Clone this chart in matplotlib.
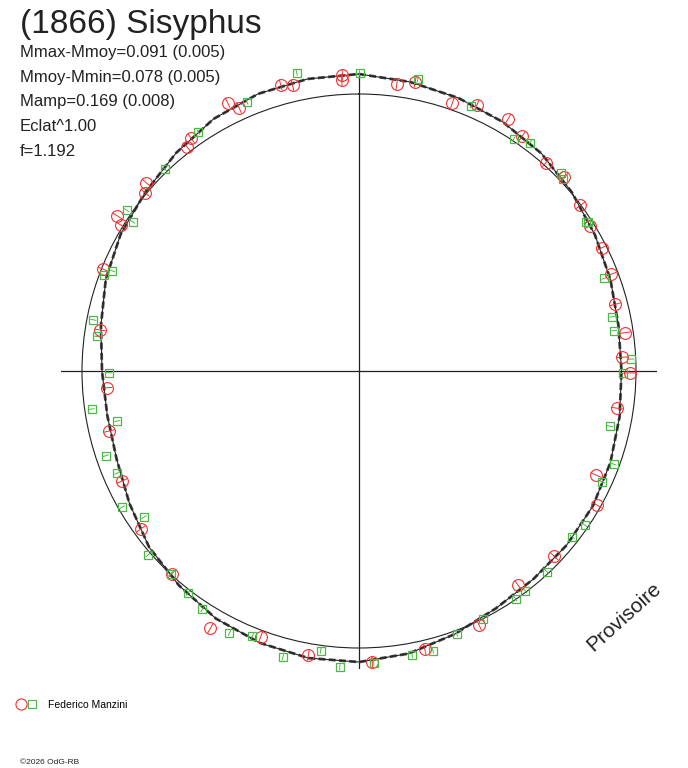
import numpy as np
import matplotlib
matplotlib.use('Agg')
import matplotlib.pyplot as plt
from matplotlib.legend_handler import HandlerTuple
from matplotlib.lines import Line2D

plt.rcParams['font.family'] = ['Liberation Sans', 'DejaVu Sans']

# fitted light curve, rotation phase in degrees (clockwise from top), dmag relative to mean
curve_phase = np.arange(0, 360, 10)
curve_dmag = [0.087, 0.072, 0.059, 0.046, 0.030, 0.004, -0.020, -0.041, -0.059,
              -0.063, -0.054, -0.041, -0.030, -0.026, -0.024, -0.013, 0.013, 0.043,
              0.061, 0.063, 0.054, 0.039, 0.013, -0.013, -0.052, -0.083, -0.093,
              -0.087, -0.065, -0.033, -0.009, 0.007, 0.033, 0.061, 0.078, 0.085]

# observer 1 (red circles)
red_phase = [356.8, 356.6, 344.7, 346.9, 333.9, 335.5, 324.2, 322.5, 311.5, 309.8,
             302.7, 301.5, 291.7, 279.0, 7.5, 11.0, 19.2, 23.9, 30.6, 34.8,
             41.9, 46.6, 53.2, 57.8, 63.1, 69.0, 75.4, 81.8, 87.0, 90.4,
             98.2, 113.7, 119.4, 133.5, 143.4, 154.7, 166.7, 177.4, 190.1, 200.3,
             210.0, 222.7, 234.1, 245.1, 256.5, 266.2]
red_dmag = [0.084, 0.063, 0.085, 0.071, 0.095, 0.054, 0.043, 0.022, 0.031, 0.006,
            0.044, 0.009, -0.007, -0.064, 0.054, 0.076, 0.028, 0.060, 0.067, 0.040,
            0.013, 0.025, -0.003, -0.018, -0.020, -0.031, -0.054, -0.036, -0.058, -0.026,
            -0.070, -0.080, -0.018, -0.034, -0.043, 0.017, 0.039, 0.061, 0.050, 0.027,
            0.087, -0.005, -0.034, -0.067, -0.088, -0.105]
red_err = 0.025

# observer 2 (green squares)
green_phase = [348.2, 0.1, 337.4, 326.1, 316.1, 304.7, 303.4, 292.1, 290.6, 280.9,
               277.5, 269.6, 11.4, 22.9, 33.7, 36.8, 45.6, 46.8, 56.8, 56.9,
               69.3, 77.9, 81.0, 87.5, 90.5, 261.9, 258.3, 251.5, 247.1, 240.1,
               235.8, 228.9, 222.9, 217.6, 213.3, 206.3, 201.9, 194.9, 187.8, 183.7,
               102.4, 110.1, 114.5, 124.3, 127.9, 136.9, 142.9, 145.5, 153.4, 159.6,
               165.2, 169.4, 177.1]
green_dmag = [0.120, 0.090, 0.064, 0.047, 0.013, 0.024, -0.026, -0.047, -0.020, -0.028,
              -0.054, -0.117, 0.089, 0.048, 0.008, 0.036, 0.024, 0.014, -0.024, -0.015,
              -0.064, -0.078, -0.080, -0.020, -0.058, -0.030, -0.131, -0.044, -0.063, -0.017,
              -0.074, 0.014, -0.001, 0.016, 0.036, 0.067, 0.038, 0.084, 0.023, 0.087,
              -0.087, -0.025, -0.042, -0.015, -0.030, -0.009, -0.007, -0.003, 0.001, 0.014,
              0.053, 0.052, 0.066]
green_err = 0.013

title = '(1866) Sisyphus'
info_lines = ['Mmax-Mmoy=0.091 (0.005)', 'Mmoy-Mmin=0.078 (0.005)',
              'Mamp=0.169 (0.008)', 'Eclat^1.00', 'f=1.192']
observer = 'Federico Manzini'

RED = '#f03030'
GREEN = '#4db848'
INK = '#222222'

W, H = 688, 768
R_CIRCLE = 277.0   # px radius of mean magnitude circle
PX_PER_MAG = 230.0
R_AXIS = 298.0     # px, length of the cross arms
CX, CY = 359, 371  # centre in px (from top)

rorigin = -R_CIRCLE / PX_PER_MAG
rmax = rorigin + R_AXIS / PX_PER_MAG

fig = plt.figure(figsize=(W / 100, H / 100), dpi=100)
ax = fig.add_axes([(CX - R_AXIS) / W, (H - CY - R_AXIS) / H,
                   2 * R_AXIS / W, 2 * R_AXIS / H], projection='polar')
ax.set_theta_zero_location('N')
ax.set_theta_direction(-1)
ax.set_rlim(rorigin, rmax)
ax.set_rorigin(rorigin)
ax.spines['polar'].set_visible(False)
ax.patch.set_visible(False)
ax.set_thetagrids([0, 90, 180, 270], labels=[''] * 4)
ax.set_rgrids([0.0], labels=[''])
ax.grid(True, color=INK, lw=0.9)
ax.yaxis.grid(True, color=INK, lw=0.8)
ax.tick_params(length=0)

th = np.deg2rad(np.append(curve_phase, curve_phase[0]))
cd = np.append(curve_dmag, curve_dmag[0])
ax.plot(th, cd, color='#444444', lw=2.0, ls=(0, (2.5, 1.2)))
ax.plot(th, cd, color=INK, lw=0.8)

ax.errorbar(np.deg2rad(red_phase), red_dmag, yerr=red_err, fmt='o', ms=8.5,
            mfc='none', mec=RED, mew=0.8, ecolor=RED, elinewidth=0.7, capsize=0)
ax.errorbar(np.deg2rad(green_phase), green_dmag, yerr=green_err, fmt='s', ms=6,
            mfc='none', mec=GREEN, mew=0.9, ecolor=GREEN, elinewidth=0.7, capsize=0)
for art in ax.lines + list(ax.collections):
    art.set_clip_on(False)

fig.text(20 / W, 1 - 33 / H, title, fontsize=24, color=INK, va='baseline')
for i, s in enumerate(info_lines):
    fig.text(20 / W, 1 - (57 + 24.7 * i) / H, s, fontsize=12, color=INK, va='baseline')

fig.text(624 / W, 1 - 617 / H, 'Provisoire', fontsize=15, color=INK, rotation=42,
         ha='center', va='center', rotation_mode='anchor')

h_red = Line2D([], [], ls='none', marker='o', ms=8, mfc='none', mec=RED, mew=0.8)
h_green = Line2D([], [], ls='none', marker='s', ms=6, mfc='none', mec=GREEN, mew=0.8)
fig.legend(handles=[(h_red, h_green)], labels=[observer],
           handler_map={tuple: HandlerTuple(ndivide=None, pad=0.2)},
           loc='center left', bbox_to_anchor=(11 / W, 1 - 705 / H), frameon=False,
           fontsize=7.5, handlelength=2.0, handletextpad=1.1, borderpad=0)

fig.text(20 / W, 1 - 763 / H, '\u00a92026 OdG-RB', fontsize=6, color=INK, va='center')

fig.savefig('out.png', dpi=100, facecolor='white')
